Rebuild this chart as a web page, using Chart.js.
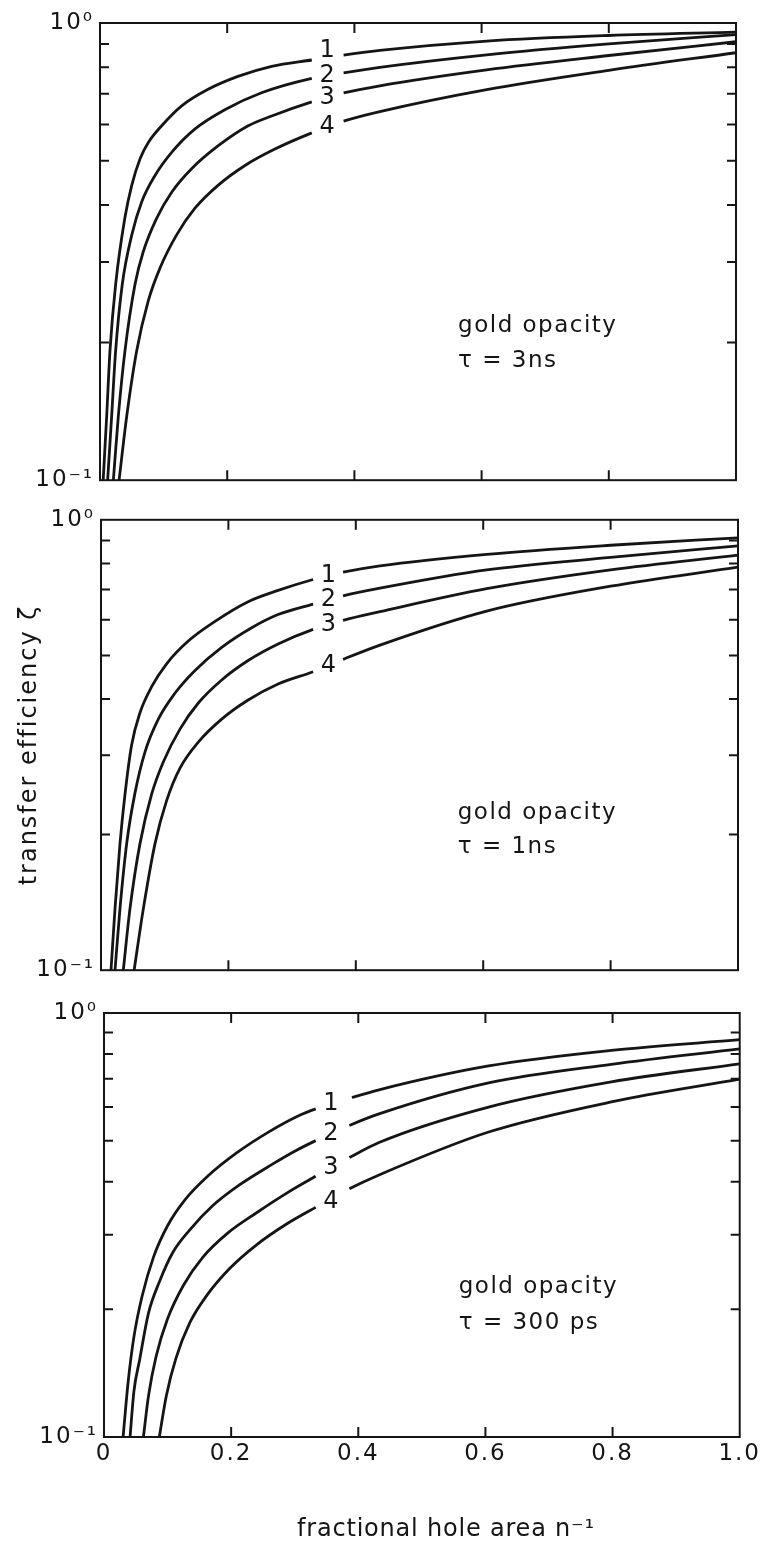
<!DOCTYPE html>
<html>
<head>
<meta charset="utf-8">
<script src="https://cdn.jsdelivr.net/npm/chart.js@4.4.1/dist/chart.umd.min.js"></script>
<style>
  html, body { margin: 0; padding: 0; background: #fff; }
  body { width: 761px; height: 1559px; position: relative; overflow: hidden; }
  canvas { position: absolute; left: 0; }
</style>
</head>
<body>
<canvas id="p1" width="761" height="500" style="top:0"></canvas>
<canvas id="p2" width="761" height="490" style="top:500px"></canvas>
<canvas id="p3" width="761" height="569" style="top:990px"></canvas>
<script>
// values: [hole area n^-1, transfer efficiency]
// tau = 3 ns
const tau3ns_1 = [[0.005,0.1],[0.0105,0.138],[0.0157,0.192],[0.0246,0.268],[0.039,0.374],[0.05,0.442],[0.063,0.505],[0.076,0.548],[0.097,0.596],[0.128,0.658],[0.17,0.716],[0.218,0.765],[0.27,0.804],[0.333,0.83],[0.383,0.851],[0.44,0.871],[0.608,0.913],[0.8,0.939],[1.0,0.955]];
const tau3ns_2 = [[0.012,0.1],[0.0183,0.138],[0.0246,0.192],[0.035,0.268],[0.05,0.344],[0.0655,0.406],[0.0865,0.464],[0.113,0.522],[0.149,0.586],[0.197,0.647],[0.254,0.704],[0.333,0.757],[0.383,0.778],[0.44,0.8],[0.608,0.852],[0.8,0.9],[1.0,0.943]];
const tau3ns_3 = [[0.021,0.1],[0.0288,0.138],[0.0393,0.192],[0.055,0.268],[0.068,0.316],[0.089,0.374],[0.113,0.427],[0.144,0.48],[0.186,0.539],[0.233,0.596],[0.27,0.626],[0.333,0.672],[0.383,0.703],[0.44,0.729],[0.608,0.79],[0.8,0.849],[1.0,0.91]];
const tau3ns_4 = [[0.03,0.1],[0.042,0.138],[0.0577,0.192],[0.076,0.247],[0.0943,0.291],[0.1205,0.344],[0.149,0.393],[0.186,0.442],[0.228,0.488],[0.275,0.53],[0.333,0.575],[0.383,0.61],[0.44,0.64],[0.608,0.715],[0.8,0.788],[1.0,0.861]];
// tau = 1 ns
const tau1ns_1 = [[0.0157,0.1],[0.022,0.137],[0.0298,0.191],[0.0377,0.246],[0.048,0.316],[0.0612,0.373],[0.0795,0.426],[0.103,0.479],[0.137,0.538],[0.179,0.595],[0.231,0.658],[0.278,0.697],[0.333,0.737],[0.38,0.765],[0.438,0.79],[0.6055,0.838],[0.8,0.878],[1.0,0.912]];
const tau1ns_2 = [[0.022,0.1],[0.0298,0.137],[0.0403,0.191],[0.053,0.246],[0.069,0.305],[0.09,0.361],[0.116,0.412],[0.1476,0.463],[0.1895,0.521],[0.2366,0.576],[0.278,0.616],[0.333,0.65],[0.38,0.678],[0.438,0.705],[0.6055,0.774],[0.8,0.825],[1.0,0.875]];
const tau1ns_3 = [[0.035,0.1],[0.0455,0.137],[0.0612,0.191],[0.0795,0.246],[0.0978,0.29],[0.124,0.343],[0.1528,0.392],[0.1895,0.441],[0.231,0.487],[0.278,0.53],[0.333,0.571],[0.38,0.598],[0.438,0.625],[0.6055,0.703],[0.8,0.774],[1.0,0.835]];
const tau1ns_4 = [[0.052,0.1],[0.0665,0.137],[0.0848,0.191],[0.103,0.238],[0.124,0.281],[0.1528,0.321],[0.1895,0.361],[0.231,0.398],[0.278,0.432],[0.333,0.46],[0.38,0.49],[0.438,0.527],[0.6055,0.627],[0.8,0.712],[1.0,0.785]];
// tau = 300 ps
const tau300ps_1 = [[0.03,0.1],[0.038,0.135],[0.047,0.172],[0.06,0.215],[0.078,0.266],[0.1,0.315],[0.127,0.362],[0.163,0.412],[0.208,0.467],[0.26,0.525],[0.307,0.573],[0.333,0.594],[0.39,0.632],[0.4326,0.659],[0.605,0.75],[0.798,0.816],[1.0,0.865]];
const tau300ps_2 = [[0.041,0.1],[0.047,0.128],[0.056,0.152],[0.07,0.196],[0.087,0.232],[0.108,0.272],[0.135,0.308],[0.17,0.35],[0.213,0.393],[0.265,0.44],[0.3,0.472],[0.333,0.5],[0.386,0.543],[0.4326,0.578],[0.605,0.684],[0.798,0.757],[1.0,0.823]];
const tau300ps_3 = [[0.062,0.1],[0.07,0.125],[0.082,0.155],[0.1,0.19],[0.125,0.228],[0.155,0.265],[0.195,0.303],[0.24,0.338],[0.29,0.378],[0.333,0.412],[0.386,0.456],[0.4326,0.495],[0.605,0.6],[0.798,0.688],[1.0,0.759]];
const tau300ps_4 = [[0.087,0.1],[0.098,0.125],[0.113,0.153],[0.135,0.186],[0.162,0.216],[0.198,0.25],[0.24,0.284],[0.286,0.317],[0.333,0.348],[0.386,0.385],[0.4326,0.415],[0.605,0.524],[0.798,0.617],[1.0,0.698]];

const curveLabels = ['1', '2', '3', '4'];
const noteLines = [['gold opacity', 'τ = 3ns'], ['gold opacity', 'τ = 1ns'], ['gold opacity', 'τ = 300 ps']];
const yTickText = ['10⁻¹', '10⁰'];
const xTitle = 'fractional hole area n⁻¹';
const yTitle = 'transfer efficiency ζ';
const labelX = 0.357;          // where the curve numbers sit
const gapX = [0.34, 0.375];    // curves are broken around the numbers

const panels = [
  { id: 'p1', curves: [tau3ns_1, tau3ns_2, tau3ns_3, tau3ns_4], padTop: 23, axisW: 100, padRight: 25, xAxisH: 16,
    nudge: [-7, 0, 0, 0], note: [0.563, 0.662, 0.74] },
  { id: 'p2', curves: [tau1ns_1, tau1ns_2, tau1ns_3, tau1ns_4], padTop: 18, axisW: 101, padRight: 23, xAxisH: 12,
    nudge: [0, 0, 0, 0], note: [0.56, 0.65, 0.726] },
  { id: 'p3', curves: [tau300ps_1, tau300ps_2, tau300ps_3, tau300ps_4], padTop: 23, axisW: 104, padRight: 19, xAxisH: 122,
    nudge: [0, 0, 0, 3], note: [0.558, 0.646, 0.731] }
];

const ink = '#151515';
const fontFamily = '"DejaVu Sans", sans-serif';

function valueAt(pts, x) {
  let i = 1;
  while (i < pts.length - 1 && pts[i][0] < x) i++;
  const [x0, y0] = pts[i - 1], [x1, y1] = pts[i];
  const t = (x - x0) / (x1 - x0);
  return Math.pow(10, Math.log10(y0) + t * (Math.log10(y1) - Math.log10(y0)));
}

// only whole tenths get a tick mark
function isTenth(v) {
  const k = v * 10;
  return Math.abs(k - Math.round(k)) < 1e-6;
}

function decor(p, idx, last) {
  return {
    id: 'decor',
    beforeDraw(chart) { chart.ctx.letterSpacing = '2px'; },
    afterDatasetsDraw(chart) {
      const { ctx, scales: { x, y } } = chart;
      ctx.save();
      ctx.letterSpacing = '0px';
      ctx.fillStyle = ink;
      ctx.font = '24px ' + fontFamily;
      ctx.textAlign = 'center';
      ctx.textBaseline = 'middle';
      p.curves.forEach((pts, i) => {
        const v = valueAt(pts, labelX);
        ctx.fillText(curveLabels[i], x.getPixelForValue(labelX), y.getPixelForValue(v) + p.nudge[i]);
      });
      ctx.restore();
    },
    afterDraw(chart) {
      const { ctx, chartArea: a, scales: { x, y } } = chart;
      ctx.save();
      ctx.strokeStyle = ink;
      ctx.lineWidth = 2;
      ctx.strokeRect(a.left, a.top, a.right - a.left, a.bottom - a.top);
      ctx.beginPath();
      y.ticks.forEach(t => {
        if (t.value <= 0.1 + 1e-9 || t.value >= 1 - 1e-9 || !isTenth(t.value)) return;
        const py = y.getPixelForValue(t.value);
        ctx.moveTo(a.left, py); ctx.lineTo(a.left + 9, py);
        ctx.moveTo(a.right, py); ctx.lineTo(a.right - 9, py);
      });
      x.ticks.forEach(t => {
        if (t.value <= 1e-9 || t.value >= 1 - 1e-9) return;
        const px = x.getPixelForValue(t.value);
        ctx.moveTo(px, a.top); ctx.lineTo(px, a.top + 10);
        ctx.moveTo(px, a.bottom); ctx.lineTo(px, a.bottom - 10);
      });
      ctx.stroke();

      ctx.fillStyle = ink;
      ctx.font = '23px ' + fontFamily;
      ctx.letterSpacing = '1.5px';
      ctx.textAlign = 'left';
      ctx.textBaseline = 'middle';
      const nx = a.left + p.note[0] * (a.right - a.left);
      const h = a.bottom - a.top;
      ctx.fillText(noteLines[idx][0], nx, a.top + p.note[1] * h);
      ctx.fillText(noteLines[idx][1], nx, a.top + p.note[2] * h);

      if (last) {
        // axis title sits a little right of the plot centre in the original
        ctx.font = '24px ' + fontFamily;
        ctx.letterSpacing = '0.8px';
        ctx.textAlign = 'center';
        ctx.fillText(xTitle, a.left + 0.538 * (a.right - a.left), a.bottom + 93);
      }
      ctx.restore();
      ctx.letterSpacing = '0px';
    }
  };
}

panels.forEach((p, idx) => {
  const last = idx === panels.length - 1;
  new Chart(document.getElementById(p.id), {
    type: 'line',
    data: {
      datasets: p.curves.map(pts => ({
        data: pts.map(([x, y]) => ({ x, y })),
        borderColor: ink,
        borderWidth: 2.8,
        pointRadius: 0,
        fill: false,
        cubicInterpolationMode: 'monotone',
        segment: {
          borderColor: c => (c.p0.parsed.x < gapX[1] && c.p1.parsed.x > gapX[0]) ? 'rgba(0,0,0,0)' : undefined
        }
      }))
    },
    options: {
      responsive: false,
      animation: false,
      events: [],
      layout: { padding: { top: p.padTop, right: p.padRight, left: 0, bottom: 0 } },
      plugins: { legend: { display: false }, tooltip: { enabled: false } },
      scales: {
        x: {
          type: 'linear', min: 0, max: 1,
          grid: { display: false, drawTicks: false },
          border: { display: false },
          afterFit: s => { s.height = p.xAxisH; },
          ticks: {
            display: last, stepSize: 0.2, autoSkip: false, padding: 3, color: ink,
            font: { family: fontFamily, size: 23 },
            callback: v => Math.abs(v) < 1e-9 ? '0' : v.toFixed(1)
          }
        },
        y: {
          type: 'logarithmic', min: 0.1, max: 1,
          grid: { display: false, drawTicks: false },
          border: { display: false },
          afterFit: s => { s.width = p.axisW; },
          ticks: {
            autoSkip: false, padding: 6, color: ink,
            font: { family: fontFamily, size: 23 },
            callback: v => Math.abs(v - 1) < 1e-9 ? yTickText[1] : (Math.abs(v - 0.1) < 1e-9 ? yTickText[0] : '')
          },
          title: {
            display: idx === 1, text: yTitle, color: ink,
            font: { family: fontFamily, size: 24 },
            padding: { top: 15, bottom: 0 }
          }
        }
      }
    },
    plugins: [decor(p, idx, last)]
  });
});
</script>
</body>
</html>
